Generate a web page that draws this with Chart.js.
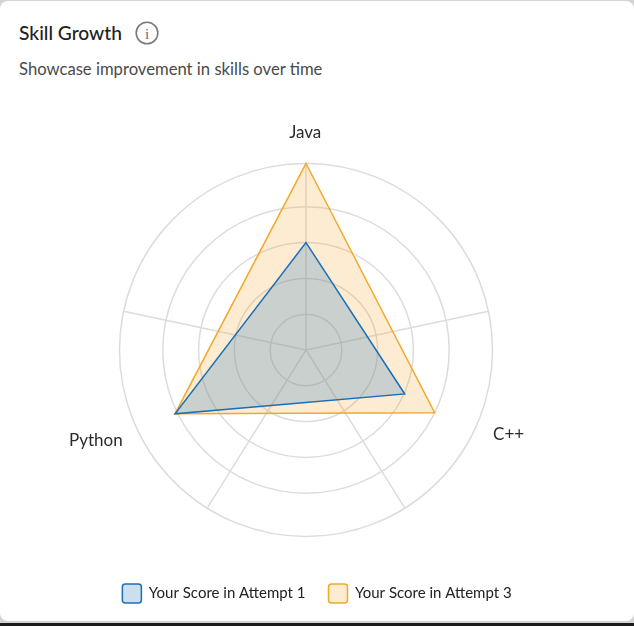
<!DOCTYPE html>
<html>
<head>
<meta charset="utf-8">
<script src="https://cdn.jsdelivr.net/npm/chart.js@4"></script>
<style>
  html, body { margin: 0; padding: 0; background: #d4d4d4; overflow: hidden; }
  body { width: 634px; height: 626px; position: relative; font-family: Lato, sans-serif; }
  .strip { position: absolute; left: 0; right: 0; top: 623px; height: 3px; background: #1c1c1c; }
  .card { position: absolute; left: 0; top: 1px; width: 634px; height: 620px; background: #fff; border-radius: 8px; }
  h1 { position: absolute; left: 19px; top: 21px; margin: 0; font-size: 19.2px; line-height: 24px; font-weight: 500; color: #212121; }
  p { position: absolute; left: 19px; top: 59px; margin: 0; font-size: 16.65px; line-height: 20px; color: #4a4a4a; }
  svg { position: absolute; left: 135px; top: 21px; }
  #wrap { position: absolute; left: 0; top: 0; width: 634px; height: 626px; }
</style>
</head>
<body>
<div class="strip"></div>
<div class="card"></div>
<h1>Skill Growth</h1>
<svg width="24" height="24" viewBox="0 0 24 24">
  <circle cx="12" cy="12" r="10.8" fill="none" stroke="#7a7a7a" stroke-width="1.6"/>
  <text x="12" y="17.5" text-anchor="middle" font-family="Liberation Serif" font-size="15" fill="#6a6a6a">i</text>
</svg>
<p>Showcase improvement in skills over time</p>
<div id="wrap"><canvas id="myChart" width="634" height="626"></canvas></div>
<script>
// the source chart has unevenly spaced axes, so the radar runs on 2 degree steps
let stepCount = 180;
let categories = ['Java', 'C++', 'Python'];
let attempt1Steps = [0, 57, 122];
let attempt3Steps = [0, 58, 122];
let attempt1 = [3, 3.02, 4.07];
let attempt3 = [5.21, 4, 4.07];
let spokeSteps = [0, 39, 74, 106, 141];
let ringValues = [0, 1, 2, 3, 4, 5.21];
let labelSteps = [179.9, 56.3, 123.3];
let labelDistance = [217, 219.5, 229];

function onSteps(steps, values) {
  let out = new Array(stepCount).fill(null);
  steps.forEach((s, i) => { out[s] = values[i]; });
  return out;
}

let stepLabels = new Array(stepCount).fill('');
attempt3Steps.forEach((s, i) => { stepLabels[s] = categories[i]; });

const axisNames = {
  id: 'axisNames',
  afterDatasetsDraw(chart) {
    let r = chart.scales.r;
    let c = chart.ctx;
    c.save();
    c.font = '17px Lato';
    c.fillStyle = '#2b2b2b';
    c.textAlign = 'center';
    c.textBaseline = 'middle';
    categories.forEach((name, i) => {
      let p = r.getPointPosition(labelSteps[i], labelDistance[i]);
      c.fillText(name, p.x, p.y);
    });
    c.restore();
  }
};

let chart = new Chart(document.getElementById('myChart').getContext('2d'), {
  type: 'radar',
  data: {
    labels: stepLabels,
    datasets: [
      {
        label: 'Your Score in Attempt 1',
        data: onSteps(attempt1Steps, attempt1),
        borderColor: '#1a6fb8',
        backgroundColor: 'rgba(53,127,192,0.25)',
        borderWidth: 1.5,
        pointRadius: 0,
        spanGaps: true,
        fill: true,
        tension: 0
      },
      {
        label: 'Your Score in Attempt 3',
        data: onSteps(attempt3Steps, attempt3),
        borderColor: '#f0a929',
        backgroundColor: 'rgba(247,170,50,0.22)',
        borderWidth: 1.5,
        pointRadius: 0,
        spanGaps: true,
        fill: true,
        tension: 0
      }
    ]
  },
  plugins: [axisNames],
  options: {
    responsive: false,
    animation: false,
    layout: { padding: { top: 120, bottom: 13 } },
    scales: {
      r: {
        min: 0,
        max: 5.21,
        afterBuildTicks(s) { s.ticks = ringValues.map(v => ({ value: v })); },
        afterFit(s) { s.xCenter = 306; s.yCenter = 350; s.drawingArea = 186.5; },
        ticks: { display: false },
        pointLabels: { display: false },
        grid: { circular: true, color: '#dcdcdc', lineWidth: 1.5 },
        angleLines: {
          color: '#dcdcdc',
          lineWidth: ctx => spokeSteps.includes(ctx.index) ? 1.5 : 0
        }
      }
    },
    plugins: {
      tooltip: { enabled: false },
      legend: {
        position: 'bottom',
        labels: {
          boxWidth: 19,
          boxHeight: 19,
          useBorderRadius: true,
          borderRadius: 3,
          padding: 23,
          color: '#222',
          font: { family: 'Lato', size: 15 }
        }
      }
    }
  }
});
</script>
</body>
</html>
